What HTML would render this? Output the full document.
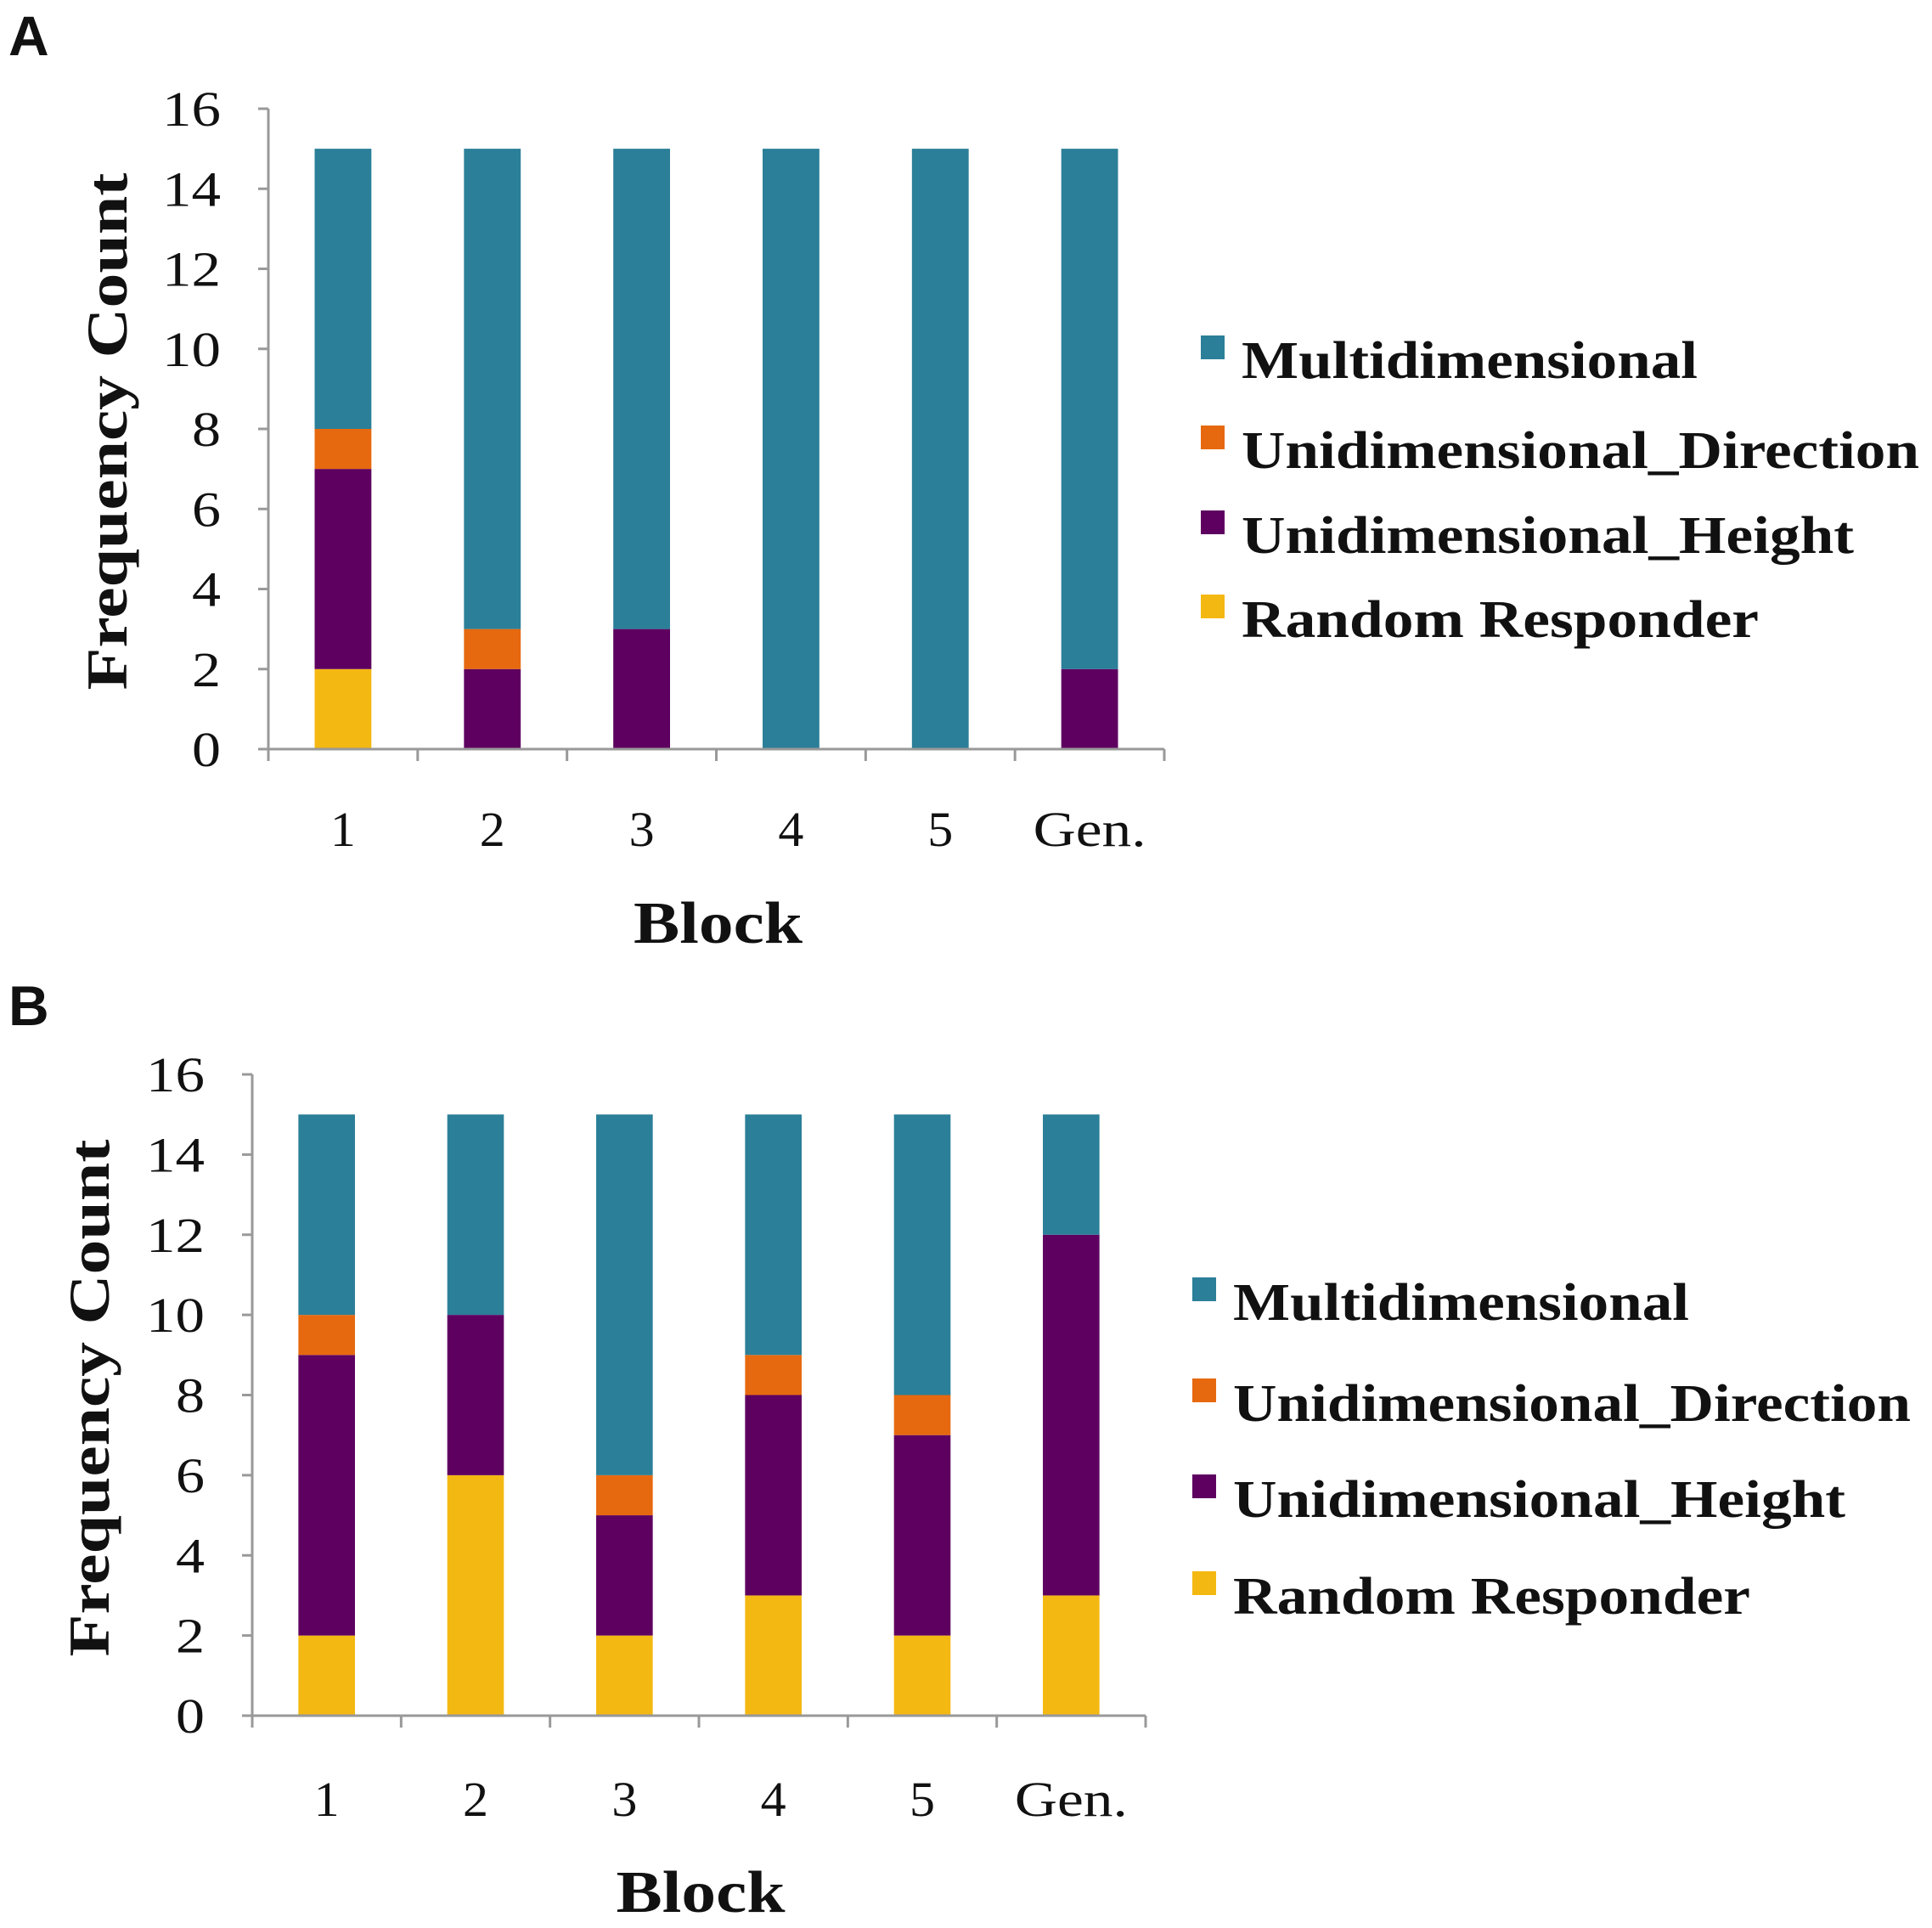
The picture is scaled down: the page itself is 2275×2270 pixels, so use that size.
<!DOCTYPE html>
<html><head><meta charset="utf-8"><style>
html,body{margin:0;padding:0;background:#fff;}
svg{display:block;}
text{font-family:"Liberation Serif",serif;fill:#111;}
</style></head><body>
<svg id="fig" width="2275" height="2270" viewBox="0 0 2275 2270" xmlns="http://www.w3.org/2000/svg">
<text x="10" y="65" style="font-family:'Liberation Sans',sans-serif;font-weight:bold;font-size:66px">A</text>
<text x="10" y="1207" style="font-family:'Liberation Sans',sans-serif;font-weight:bold;font-size:66px">B</text>
</svg>
<script>
const categories = ["1","2","3","4","5","Gen."];
const seriesNames = ["Random Responder","Unidimensional_Height","Unidimensional_Direction","Multidimensional"];
const seriesColors = ["#f4b812","#5e0060","#e6690f","#2b7f98"];
const yTicks = [0,2,4,6,8,10,12,14,16];
const aRandom = [2,0,0,0,0,0];
const aHeight = [5,2,3,0,0,2];
const aDirection = [1,1,0,0,0,0];
const aMulti = [7,12,12,15,15,13];
const bRandom = [2,6,2,3,2,3];
const bHeight = [7,4,3,5,5,9];
const bDirection = [1,0,1,1,1,0];
const bMulti = [5,5,9,6,7,3];

const NS = "http://www.w3.org/2000/svg";
const svg = document.getElementById("fig");
function mk(tag, attrs, parent){
  const e = document.createElementNS(NS, tag);
  for (const k in attrs) e.setAttribute(k, attrs[k]);
  (parent||svg).appendChild(e);
  return e;
}
const legendLengths = [609, 721, 798, 537];

function panel(p, key, series){
  const g = mk("g", {});
  
  
  const yScale = v => p.y0 - (p.y0 - p.y16) * v / 16;
  const cw = (p.xr - p.x0) / categories.length;
  const xC = i => p.x0 + cw * (i + 0.5);
  const bw = cw * 0.38;
  categories.forEach((c, i) => {
    let acc = 0;
    series.forEach((s, si) => {
      const v = s[i];
      if (v <= 0) return;
      const r = mk("rect", {x: xC(i) - bw/2, y: yScale(acc + v), width: bw, height: yScale(acc) - yScale(acc + v), fill: seriesColors[si]}, g);
      
      
      acc += v;
    });
  });
  const ya = mk("line", {x1: p.x0, y1: p.y16, x2: p.x0, y2: p.y0, stroke: "#999", "stroke-width": 3}, g);
  
  
  const xa = mk("line", {x1: p.x0, y1: p.y0, x2: p.xr, y2: p.y0, stroke: "#999", "stroke-width": 3}, g);
  
  
  yTicks.forEach(t => {
    mk("line", {x1: p.x0 - 12, y1: yScale(t), x2: p.x0, y2: yScale(t), stroke: "#999", "stroke-width": 3}, g);
    const tx = mk("text", {x: p.x0 - 56, y: yScale(t) + 20, "text-anchor": "end", "font-size": 58, textLength: String(t).length > 1 ? 69 : 34, lengthAdjust: "spacingAndGlyphs", fill: "#222"}, g);
    tx.textContent = t;
    
    
  });
  for (let i = 0; i <= categories.length; i++) {
    mk("line", {x1: p.x0 + cw*i, y1: p.y0, x2: p.x0 + cw*i, y2: p.y0 + 14, stroke: "#999", "stroke-width": 3}, g);
  }
  categories.forEach((c, i) => {
    const tx = mk("text", {x: xC(i), y: p.xl + 4, "text-anchor": "middle", "font-size": 58, textLength: c.length > 1 ? 133 : 30, lengthAdjust: "spacingAndGlyphs", fill: "#222"}, g);
    tx.textContent = c;
    
    
  });
  const xt = mk("text", {x: (p.x0 + p.xr)/2 + 2, y: p.bt, "text-anchor": "middle", "font-size": 70, "font-weight": "bold", textLength: 199, lengthAdjust: "spacingAndGlyphs"}, g);
  xt.textContent = "Block";
  
  
  const yt = mk("text", {x: 0, y: 0, "text-anchor": "middle", "font-size": 68, "font-weight": "bold", textLength: 609, lengthAdjust: "spacingAndGlyphs", transform: "translate(" + p.ytx + "," + p.ytc + ") rotate(-90)"}, g);
  yt.textContent = "Frequency Count";
  
  
  [3,2,1,0].forEach((si, k) => {
    const ly = p.leg[k];
    const lg = mk("g", {}, g);
    
    
    mk("rect", {x: p.lx, y: ly - 30, width: 28, height: 28, fill: seriesColors[si]}, lg);
    const tx = mk("text", {x: p.lx + 48, y: ly + 20, "font-size": 62, "font-weight": "bold", textLength: legendLengths[si], lengthAdjust: "spacingAndGlyphs"}, lg);
    tx.textContent = seriesNames[si];
  });
}
panel({x0: 316, xr: 1371, y16: 128, y0: 882, xl: 992, bt: 1110, ytx: 149, ytc: 508, lx: 1414, leg: [425,531,631,730]}, "a", [aRandom, aHeight, aDirection, aMulti]);
panel({x0: 297, xr: 1349, y16: 1265, y0: 2020, xl: 2134, bt: 2251, ytx: 128, ytc: 1646, lx: 1404, leg: [1534,1653,1766,1880]}, "b", [bRandom, bHeight, bDirection, bMulti]);
</script>
</body></html>
